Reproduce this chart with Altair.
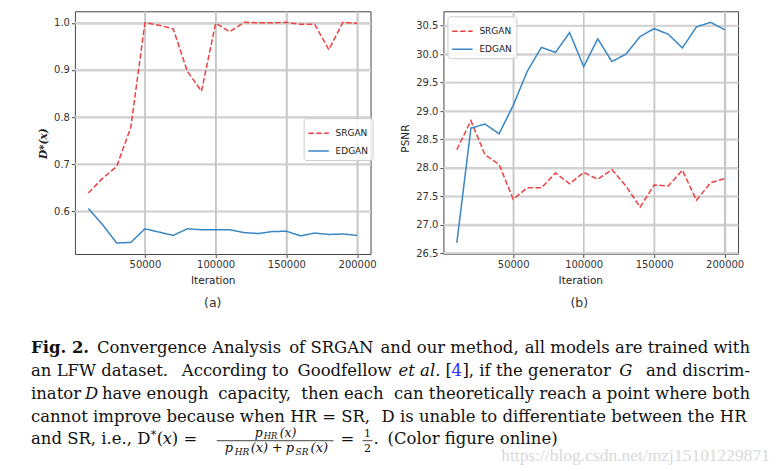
import altair as alt
import pandas as pd

# ---------------- data ----------------
iterations = [10000, 20000, 30000, 40000, 50000, 60000, 70000, 80000, 90000, 100000,
              110000, 120000, 130000, 140000, 150000, 160000, 170000, 180000, 190000, 200000]
series_names = ["SRGAN", "EDGAN"]
d_srgan = [0.639, 0.670, 0.695, 0.778, 1.000, 0.995, 0.987, 0.897, 0.855, 0.999,
           0.981, 1.001, 1.000, 1.000, 1.001, 0.997, 0.997, 0.943, 1.001, 0.999]
d_edgan = [0.606, 0.572, 0.533, 0.534, 0.563, 0.556, 0.549, 0.563, 0.561, 0.561,
           0.561, 0.555, 0.553, 0.557, 0.558, 0.548, 0.554, 0.551, 0.552, 0.549]
psnr_srgan = [28.32, 28.83, 28.23, 28.06, 27.45, 27.65, 27.65, 27.91, 27.72, 27.92,
              27.80, 27.97, 27.68, 27.31, 27.70, 27.68, 27.96, 27.43, 27.74, 27.81]
psnr_edgan = [26.68, 28.70, 28.77, 28.60, 29.10, 29.70, 30.12, 30.03, 30.38, 29.78,
              30.27, 29.87, 30.00, 30.31, 30.45, 30.35, 30.11, 30.48, 30.56, 30.43]
x_ticks = [50000, 100000, 150000, 200000]
d_ticks = [0.6, 0.7, 0.8, 0.9, 1.0]
psnr_ticks = [26.5, 27.0, 27.5, 28.0, 28.5, 29.0, 29.5, 30.0, 30.5]
x_title = "Iteration"
d_title = "D*(x)"
psnr_title = "PSNR"
panel_labels = ["(a)", "(b)"]
watermark = "https://blog.csdn.net/mzj15101229871"

df_a = pd.DataFrame({"Iteration": iterations * 2, "value": d_srgan + d_edgan,
                     "model": ["SRGAN"] * len(iterations) + ["EDGAN"] * len(iterations)})
df_b = pd.DataFrame({"Iteration": iterations * 2, "value": psnr_srgan + psnr_edgan,
                     "model": ["SRGAN"] * len(iterations) + ["EDGAN"] * len(iterations)})

RED = "#ee4040"
BLUE = "#3a86c4"
SANS = "DejaVu Sans"
SERIF = "DejaVu Serif"
GRID_X = "#c4c4c4"
GRID_Y = "#d2d2d2"

# panel origins on the page
AX, AY = 74, 10
BX, BY = 443, 10


def label(text, px, py, size=16.5, font=SERIF, style="normal", weight="normal",
          color="#111111", align="left", baseline="alphabetic", ox=AX, oy=AY):
    return alt.Chart(alt.Data(values=[{"t": text}])).mark_text(
        align=align, baseline=baseline, font=font, fontSize=size,
        fontStyle=style, fontWeight=weight, color=color
    ).encode(x=alt.value(px - ox), y=alt.value(py - oy), text="t:N")


def hbar(px1, px2, py, ox=AX, oy=AY):
    return alt.Chart(alt.Data(values=[{"a": 0}])).mark_rule(
        color="#111111", strokeWidth=0.8
    ).encode(x=alt.value(px1 - ox), x2=alt.value(px2 - ox), y=alt.value(py - oy))


def make_legend(lx, ly):
    return alt.Legend(orient="none", legendX=lx, legendY=ly, title=None,
                      symbolType="stroke", symbolSize=420, symbolStrokeWidth=1.5,
                      labelFont=SANS, labelFontSize=9, labelColor="#222222",
                      labelOffset=6, strokeColor="#cccccc",
                      fillColor="rgba(255,255,255,0.85)", cornerRadius=3,
                      padding=4, rowPadding=2)


def x_axis(tx):
    return alt.Axis(values=x_ticks, format="d", grid=True, gridColor=GRID_X,
                    gridWidth=1.2, gridOpacity=1,
                    tickColor="#444444", tickSize=3.5, tickWidth=1, domain=False,
                    labelFont=SANS, labelFontSize=10, labelColor="#333333", labelPadding=2,
                    labelFlush=False, title=x_title, titleFont=SANS, titleFontSize=10.5,
                    titleFontWeight="normal", titleColor="#222222",
                    titleX=tx, titleY=27, titleBaseline="middle", titleAlign="center")


def y_axis(ticks, title, tx, ty, font, style, weight, size):
    return alt.Axis(values=ticks, format=".1f", grid=True, gridColor=GRID_Y,
                    gridWidth=1.8, gridOpacity=1,
                    tickColor="#444444", tickSize=3.5, tickWidth=1, domain=False,
                    labelFont=SANS, labelFontSize=10, labelColor="#333333", labelPadding=2,
                    labelFlush=False, title=title, titleFont=font, titleFontSize=size,
                    titleFontStyle=style, titleFontWeight=weight, titleColor="#222222",
                    titleX=tx, titleY=ty, titleBaseline="middle", titleAlign="center")


color_scale = alt.Scale(domain=series_names, range=[RED, BLUE])
dash_scale = alt.Scale(domain=series_names, range=[[5.5, 2.4], [1, 0]])


def panel(df, ydomain, yticks, xax, yax, legend, w, h):
    sx = alt.Scale(domain=[500, 209500], nice=False, zero=False)
    sy = alt.Scale(domain=ydomain, nice=False, zero=False)
    # grid lines drawn from the tick lists through the same scales
    gx = alt.Chart(pd.DataFrame({"Iteration": x_ticks})).mark_rule(
        color=GRID_X, strokeWidth=1.2
    ).encode(x=alt.X("Iteration:Q", scale=sx, axis=xax),
             y=alt.value(0), y2=alt.value(h))
    gy = alt.Chart(pd.DataFrame({"value": yticks})).mark_rule(
        color=GRID_Y, strokeWidth=1.8
    ).encode(y=alt.Y("value:Q", scale=sy, axis=yax),
             x=alt.value(0), x2=alt.value(w))
    lines = alt.Chart(df).mark_line(strokeWidth=1.5).encode(
        x=alt.X("Iteration:Q", scale=sx, axis=xax),
        y=alt.Y("value:Q", scale=sy, axis=yax),
        color=alt.Color("model:N", scale=color_scale, legend=legend),
        strokeDash=alt.StrokeDash("model:N", scale=dash_scale, legend=legend),
    )
    return [gy, gx, lines]


layers_a = panel(df_a, [0.5096, 1.0244], d_ticks, x_axis(138),
                 y_axis(d_ticks, d_title, -31, 132, SERIF, "italic", "bold", 10.5),
                 make_legend(229, 107), 296, 243)
layers_b = panel(df_b, [26.486, 30.754], psnr_ticks, x_axis(137),
                 y_axis(psnr_ticks, psnr_title, -38, 127, SANS, "normal", "normal", 10.5),
                 make_legend(4, 5), 295, 243)

# invisible anchor fixing the top-left of the whole figure at the page's top-left
anchor = alt.Chart(alt.Data(values=[{"a": 0}])).mark_rect(opacity=0).encode(
    x=alt.value(8 - AX), x2=alt.value(9 - AX), y=alt.value(8 - AY), y2=alt.value(9 - AY))

# ---------------- caption ----------------
L1, L2, L3, L4, L5 = 352, 375.5, 398.5, 421, 443
caption = [
    label("Fig. 2.", 30, L1, weight="bold"),
    label("Convergence Analysis", 96, L1),
    label("of SRGAN", 373, L1, align="right"),
    label("and our method,", 380, L1),
    label("all models are trained with", 750, L1, align="right"),

    label("an LFW dataset.", 30, L2),
    label("According to", 181, L2),
    label("Goodfellow", 391, L2, align="right"),
    label("et al.", 398, L2, style="italic"),
    label("[", 445, L2),
    label("4", 451, L2, color="#2a2aff"),
    label("], if the generator", 462, L2),
    label("G", 619, L2, style="italic"),
    label("and discrim-", 750, L2, align="right"),

    label("inator", 30, L3),
    label("D", 84, L3, style="italic"),
    label("have enough", 101, L3),
    label("capacity,", 254, L3, align="center"),
    label("then each", 383, L3, align="right"),
    label("can theoretically reach a point where both", 750, L3, align="right"),

    label("cannot improve because when HR = SR,", 30, L4),
    label("D is unable to differentiate between the HR", 381, L4),

    label("and SR, i.e., D", 30, L5),
    label("*", 150, L5 - 6, size=11),
    label("(", 156, L5),
    label("x", 162, L5, style="italic"),
    label(") =", 171, L5),
    # fraction numerator
    label("p", 254, 436.5, size=12.5, style="italic"),
    label("HR", 263, 438.5, size=8.5, style="italic"),
    label("(x)", 279, 436.5, size=12.5, style="italic"),
    hbar(216, 333, 440),
    # fraction denominator
    label("p", 224, 451.5, size=13, style="italic"),
    label("HR", 234, 454, size=9, style="italic"),
    label("(x)", 250, 451.5, size=13, style="italic"),
    label("+", 271, 451.5, size=13),
    label("p", 285, 451.5, size=13, style="italic"),
    label("SR", 295, 454, size=9, style="italic"),
    label("(x)", 310, 451.5, size=13, style="italic"),
    label("=", 340, L5),
    label("1", 367, 436.5, size=11, align="center"),
    hbar(362, 372, 440),
    label("2", 367, 451.5, size=11, align="center"),
    label(".", 373, L5),
    label("(Color figure online)", 387, L5),
    label(watermark, 770, 460.5, size=17.5, font="Liberation Sans Narrow",
          color="#d9d9d9", align="right"),
]

lab_a = label(panel_labels[0], 212, 302, size=12.5, font=SANS, color="#333333",
              align="center", baseline="middle")
lab_b = label(panel_labels[1], 579, 302, size=12.5, font=SANS, color="#333333",
              align="center", baseline="middle", ox=BX, oy=BY)

left = alt.layer(*layers_a, anchor, lab_a, *caption).properties(width=296, height=243)
right = alt.layer(*layers_b, lab_b).properties(width=295, height=243)

chart = alt.hconcat(left, right, spacing=73, bounds="flush").resolve_scale(
    color="independent", strokeDash="independent"
).resolve_legend(
    color="independent", strokeDash="independent"
).properties(padding=0, background="white").configure_view(
    stroke="#444444", strokeWidth=1, fill="transparent"
)

chart.save("out.html", embed_options={"renderer": "svg", "actions": False})
